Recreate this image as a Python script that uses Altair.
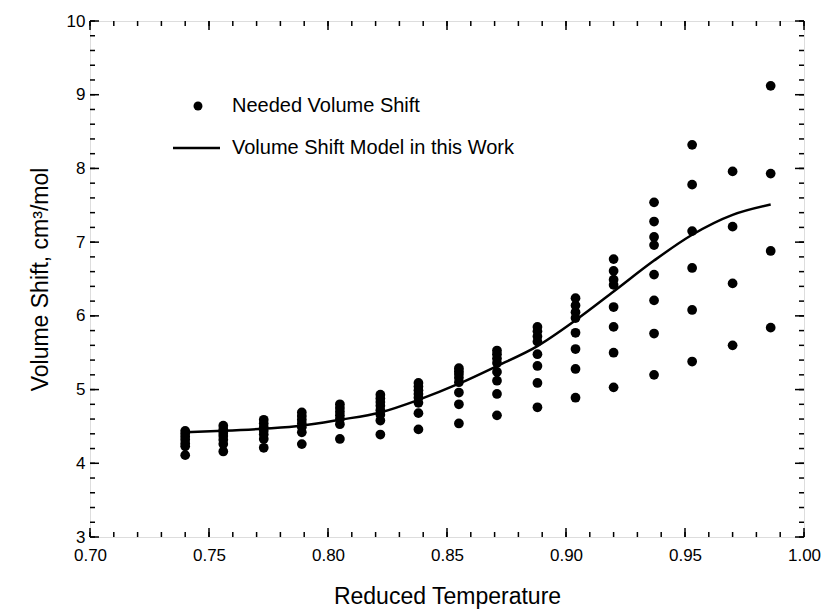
import altair as alt
import pandas as pd

# ---------------- data ----------------
tr_cols = [0.740, 0.756, 0.773, 0.789, 0.805, 0.822, 0.838, 0.855,
           0.871, 0.888, 0.904, 0.920, 0.937, 0.953, 0.970, 0.986]
shift_vals = [
    [4.44, 4.40, 4.36, 4.32, 4.27, 4.23, 4.11],
    [4.51, 4.46, 4.41, 4.37, 4.32, 4.26, 4.16],
    [4.59, 4.54, 4.49, 4.44, 4.39, 4.33, 4.21],
    [4.69, 4.64, 4.59, 4.54, 4.49, 4.42, 4.26],
    [4.80, 4.75, 4.70, 4.65, 4.60, 4.53, 4.33],
    [4.93, 4.88, 4.83, 4.78, 4.72, 4.66, 4.58, 4.39],
    [5.09, 5.04, 4.99, 4.94, 4.89, 4.82, 4.68, 4.46],
    [5.29, 5.25, 5.21, 5.16, 5.10, 4.96, 4.80, 4.54],
    [5.53, 5.48, 5.42, 5.36, 5.24, 5.12, 4.94, 4.65],
    [5.85, 5.79, 5.72, 5.65, 5.48, 5.32, 5.09, 4.76],
    [6.24, 6.14, 6.05, 5.97, 5.77, 5.55, 5.28, 4.89],
    [6.77, 6.61, 6.49, 6.42, 6.12, 5.85, 5.50, 5.03],
    [7.54, 7.28, 7.07, 6.96, 6.56, 6.21, 5.76, 5.20],
    [8.32, 7.78, 7.15, 6.65, 6.08, 5.38],
    [7.96, 7.21, 6.44, 5.60],
    [9.12, 7.93, 6.88, 5.84],
]

model_tr = [0.740, 0.756, 0.773, 0.789, 0.805, 0.822, 0.838, 0.855,
            0.871, 0.888, 0.904, 0.920, 0.937, 0.953, 0.970, 0.986]
model_shift = [4.42, 4.44, 4.47, 4.51, 4.59, 4.69, 4.86, 5.08,
               5.32, 5.59, 5.94, 6.33, 6.75, 7.10, 7.37, 7.51]

x_major = [0.70, 0.75, 0.80, 0.85, 0.90, 0.95, 1.00]
x_minor = [round(0.70 + 0.01 * i, 2) for i in range(31)]
y_major = [3, 4, 5, 6, 7, 8, 9, 10]
y_minor = [round(3 + 0.2 * i, 1) for i in range(36)]

legend_labels = ["Needed Volume Shift", "Volume Shift Model in this Work"]

# ---------------- tables ----------------
pts = pd.DataFrame([{"tr": t, "vs": v} for t, vals in zip(tr_cols, shift_vals) for v in vals])
model = pd.DataFrame({"tr": model_tr, "vs": model_shift})
xmaj = pd.DataFrame({"tr": x_major})
xmin = pd.DataFrame({"tr": x_minor})
ymaj = pd.DataFrame({"vs": y_major})
ymin = pd.DataFrame({"vs": y_minor})

W, H = 714, 516
FONT = "Liberation Sans"

xs = alt.Scale(domain=[0.70, 1.00], nice=False, zero=False)
ys = alt.Scale(domain=[3, 10], nice=False, zero=False)

x_axis = alt.Axis(
    title="Reduced Temperature", values=x_major, format=".2f",
    ticks=False, domain=False, grid=False, labelPadding=10,
    labelFontSize=17, titleFontSize=23, labelFont=FONT, titleFont=FONT,
    labelColor="black", titleColor="black", titleFontWeight="normal",
    titlePadding=22, labelFlush=False)
y_axis = alt.Axis(
    title="Volume Shift, cm³/mol", values=y_major, format="d",
    ticks=False, domain=False, grid=False, labelPadding=5,
    labelFontSize=17, titleFontSize=23, labelFont=FONT, titleFont=FONT,
    labelColor="black", titleColor="black", titleFontWeight="normal",
    titlePadding=14, labelFlush=False)

X = alt.X("tr:Q", scale=xs, axis=x_axis)
Y = alt.Y("vs:Q", scale=ys, axis=y_axis)

points = alt.Chart(pts).mark_circle(size=95, color="black", opacity=1).encode(x=X, y=Y)

line = alt.Chart(model).mark_line(color="black", strokeWidth=2.5, interpolate="monotone").encode(x=X, y=Y)

def xticks(df, length):
    bottom = alt.Chart(df).mark_rule(color="black", strokeWidth=1.5).encode(
        x=X, y=alt.value(H), y2=alt.value(H - length))
    top = alt.Chart(df).mark_rule(color="black", strokeWidth=1.5).encode(
        x=X, y=alt.value(0), y2=alt.value(length))
    return [bottom, top]

def yticks(df, length):
    left = alt.Chart(df).mark_rule(color="black", strokeWidth=1.5).encode(
        y=Y, x=alt.value(0), x2=alt.value(length))
    right = alt.Chart(df).mark_rule(color="black", strokeWidth=1.5).encode(
        y=Y, x=alt.value(W), x2=alt.value(W - length))
    return [left, right]

ticks = xticks(xmin, 5) + xticks(xmaj, 9) + yticks(ymin, 5) + yticks(ymaj, 9)

leg_df = pd.DataFrame({"label": legend_labels})
leg_dot = alt.Chart(leg_df.iloc[[0]]).mark_circle(size=80, color="black", opacity=1).encode(
    x=alt.value(108), y=alt.value(85))
leg_line = alt.Chart(leg_df.iloc[[1]]).mark_rule(color="black", strokeWidth=2.5).encode(
    x=alt.value(83), x2=alt.value(130), y=alt.value(127))
leg_text1 = alt.Chart(leg_df.iloc[[0]]).mark_text(
    align="left", baseline="middle", fontSize=20, font=FONT, color="black").encode(
    x=alt.value(142), y=alt.value(85), text="label:N")
leg_text2 = alt.Chart(leg_df.iloc[[1]]).mark_text(
    align="left", baseline="middle", fontSize=20, font=FONT, color="black").encode(
    x=alt.value(142), y=alt.value(127), text="label:N")

chart = alt.layer(points, line, *ticks, leg_dot, leg_line, leg_text1, leg_text2).properties(
    width=W, height=H,
    autosize=alt.AutoSizeParams(type="none"),
    padding={"left": 90, "top": 21, "right": 21, "bottom": 76},
).configure_view(stroke="black", strokeWidth=2.5).configure(background="white")

chart.save("out.html", embed_options={"renderer": "svg", "actions": False})
